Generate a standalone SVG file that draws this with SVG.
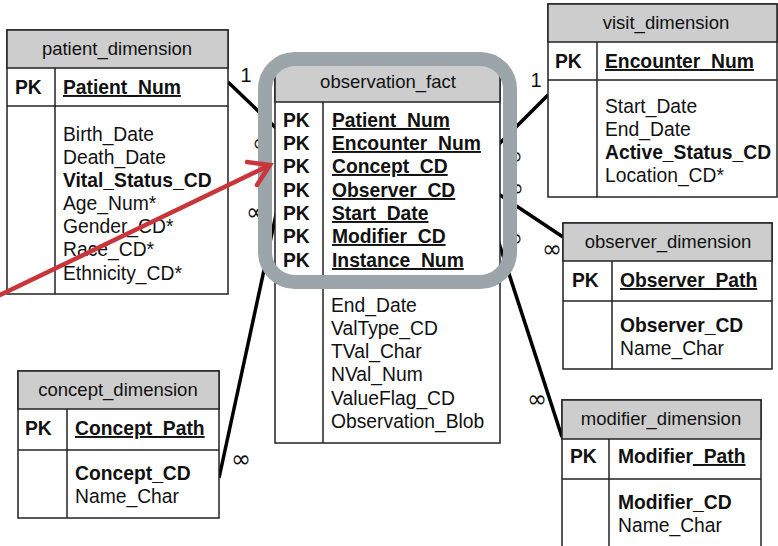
<svg xmlns="http://www.w3.org/2000/svg" width="778" height="546" viewBox="0 0 778 546">
<style>
text{font-family:"Liberation Sans",Arial,sans-serif;fill:#111}
.t{font-size:18.5px;text-anchor:middle}
.f{font-size:19.3px}
.b{font-weight:bold}
.u{text-decoration:underline}
.box{fill:#fff;stroke:#222;stroke-width:1.5}
.hd{fill:#cdcdcd;stroke:#222;stroke-width:1.5}
.ln{stroke:#222;stroke-width:1.5}
.con{stroke:#000;stroke-width:3.5;fill:none}
.lbl{font-size:20px;text-anchor:middle}
.inf{font-family:"DejaVu Sans",sans-serif;font-size:24px;text-anchor:middle}
</style>
<rect width="778" height="546" fill="#fff"/>
<g id="connectors">
<line class="con" x1="228" y1="82" x2="278" y2="130"/>
<line class="con" x1="548" y1="95" x2="497" y2="146"/>
<line class="con" x1="563" y1="237" x2="497" y2="193"/>
<line class="con" x1="219" y1="478" x2="277" y2="210"/>
<line class="con" x1="562" y1="437" x2="498" y2="240"/>
<text class="lbl" x="246" y="82">1</text>
<text class="lbl" x="536" y="87">1</text>
<text class="inf" x="241" y="467">∞</text>
<text class="inf" x="552" y="257">∞</text>
<text class="inf" x="537" y="407">∞</text>
<text class="inf" x="262" y="151">∞</text>
<text class="inf" x="256" y="220">∞</text>
<text class="inf" x="513" y="164">∞</text>
<text class="inf" x="514" y="196">∞</text>
<text class="inf" x="513" y="246">∞</text>
</g>
<g id="patient_dimension">
<rect class="box" x="7" y="30" width="221" height="264"/>
<rect class="hd" x="7" y="30" width="221" height="38"/>
<line class="ln" x1="7" y1="106" x2="228" y2="106"/>
<line class="ln" x1="55" y1="68" x2="55" y2="294"/>
<text class="t" x="117" y="55">patient_dimension</text>
<text class="f b" x="15" y="94">PK</text>
<text class="f b u" x="63" y="94">Patient_Num</text>
<text class="f" x="63" y="141">Birth_Date</text>
<text class="f" x="63" y="164">Death_Date</text>
<text class="f b" x="63" y="187">Vital_Status_CD</text>
<text class="f" x="63" y="210">Age_Num*</text>
<text class="f" x="63" y="233">Gender_CD*</text>
<text class="f" x="63" y="256">Race_CD*</text>
<text class="f" x="63" y="280">Ethnicity_CD*</text>
</g>
<g id="concept_dimension">
<rect class="box" x="18" y="371" width="201" height="147"/>
<rect class="hd" x="18" y="371" width="201" height="38"/>
<line class="ln" x1="18" y1="450" x2="219" y2="450"/>
<line class="ln" x1="67" y1="409" x2="67" y2="518"/>
<text class="t" x="118" y="396">concept_dimension</text>
<text class="f b" x="25" y="435">PK</text>
<text class="f b u" x="75" y="435">Concept_Path</text>
<text class="f b" x="75" y="480">Concept_CD</text>
<text class="f" x="75" y="503">Name_Char</text>
</g>
<g id="visit_dimension">
<rect class="box" x="548" y="4" width="229" height="193"/>
<rect class="hd" x="548" y="4" width="229" height="38"/>
<line class="ln" x1="548" y1="80" x2="777" y2="80"/>
<line class="ln" x1="597" y1="42" x2="597" y2="197"/>
<text class="t" x="666" y="29">visit_dimension</text>
<text class="f b" x="555" y="68">PK</text>
<text class="f b u" x="605" y="68">Encounter_Num</text>
<text class="f" x="605" y="113">Start_Date</text>
<text class="f" x="605" y="136">End_Date</text>
<text class="f b" x="605" y="159">Active_Status_CD</text>
<text class="f" x="605" y="182">Location_CD*</text>
</g>
<g id="observer_dimension">
<rect class="box" x="563" y="223" width="209" height="146"/>
<rect class="hd" x="563" y="223" width="209" height="38"/>
<line class="ln" x1="563" y1="301" x2="772" y2="301"/>
<line class="ln" x1="612" y1="261" x2="612" y2="369"/>
<text class="t" x="668" y="248">observer_dimension</text>
<text class="f b" x="572" y="287">PK</text>
<text class="f b u" x="620" y="287">Observer_Path</text>
<text class="f b" x="620" y="332">Observer_CD</text>
<text class="f" x="620" y="355">Name_Char</text>
</g>
<g id="modifier_dimension">
<rect class="box" x="562" y="400" width="199" height="160"/>
<rect class="hd" x="562" y="400" width="199" height="39"/>
<line class="ln" x1="562" y1="479" x2="761" y2="479"/>
<line class="ln" x1="609" y1="439" x2="609" y2="560"/>
<text class="t" x="661" y="425">modifier_dimension</text>
<text class="f b" x="570" y="463">PK</text>
<text class="f b" x="618" y="463">Modifier<tspan class="u">_Path</tspan></text>
<text class="f b" x="618" y="509">Modifier_CD</text>
<text class="f" x="618" y="532">Name_Char</text>
</g>
<g id="observation_fact">
<rect class="box" x="275" y="64" width="225" height="379"/>
<rect class="hd" x="275" y="64" width="225" height="38"/>
<line class="ln" x1="275" y1="283" x2="500" y2="283"/>
<line class="ln" x1="323" y1="102" x2="323" y2="443"/>
<text class="t" x="388" y="88">observation_fact</text>
<text class="f b" x="283" y="127">PK</text>
<text class="f b" x="283" y="150">PK</text>
<text class="f b" x="283" y="173">PK</text>
<text class="f b" x="283" y="197">PK</text>
<text class="f b" x="283" y="220">PK</text>
<text class="f b" x="283" y="243">PK</text>
<text class="f b" x="283" y="267">PK</text>
<text class="f b u" x="332" y="127">Patient_Num</text>
<text class="f b u" x="332" y="150">Encounter_Num</text>
<text class="f b u" x="332" y="173">Concept_CD</text>
<text class="f b u" x="332" y="197">Observer_CD</text>
<text class="f b u" x="332" y="220">Start_Date</text>
<text class="f b u" x="332" y="243">Modifier_CD</text>
<text class="f b u" x="332" y="267">Instance_Num</text>
<text class="f" x="331" y="312">End_Date</text>
<text class="f" x="331" y="335">ValType_CD</text>
<text class="f" x="331" y="358">TVal_Char</text>
<text class="f" x="331" y="381">NVal_Num</text>
<text class="f" x="331" y="405">ValueFlag_CD</text>
<text class="f" x="331" y="428">Observation_Blob</text>
</g>
<g id="highlight">
<rect x="265" y="59" width="245" height="223" rx="30" fill="none" stroke="#9ca5a9" stroke-width="14"/>
</g>
<g id="red_arrow" stroke="#c8363b" stroke-width="4.5" fill="none" stroke-linecap="round">
<line x1="-4" y1="297" x2="266" y2="167"/>
<polyline points="247,162 270,165 257,185" stroke-linejoin="miter"/>
</g>
</svg>
